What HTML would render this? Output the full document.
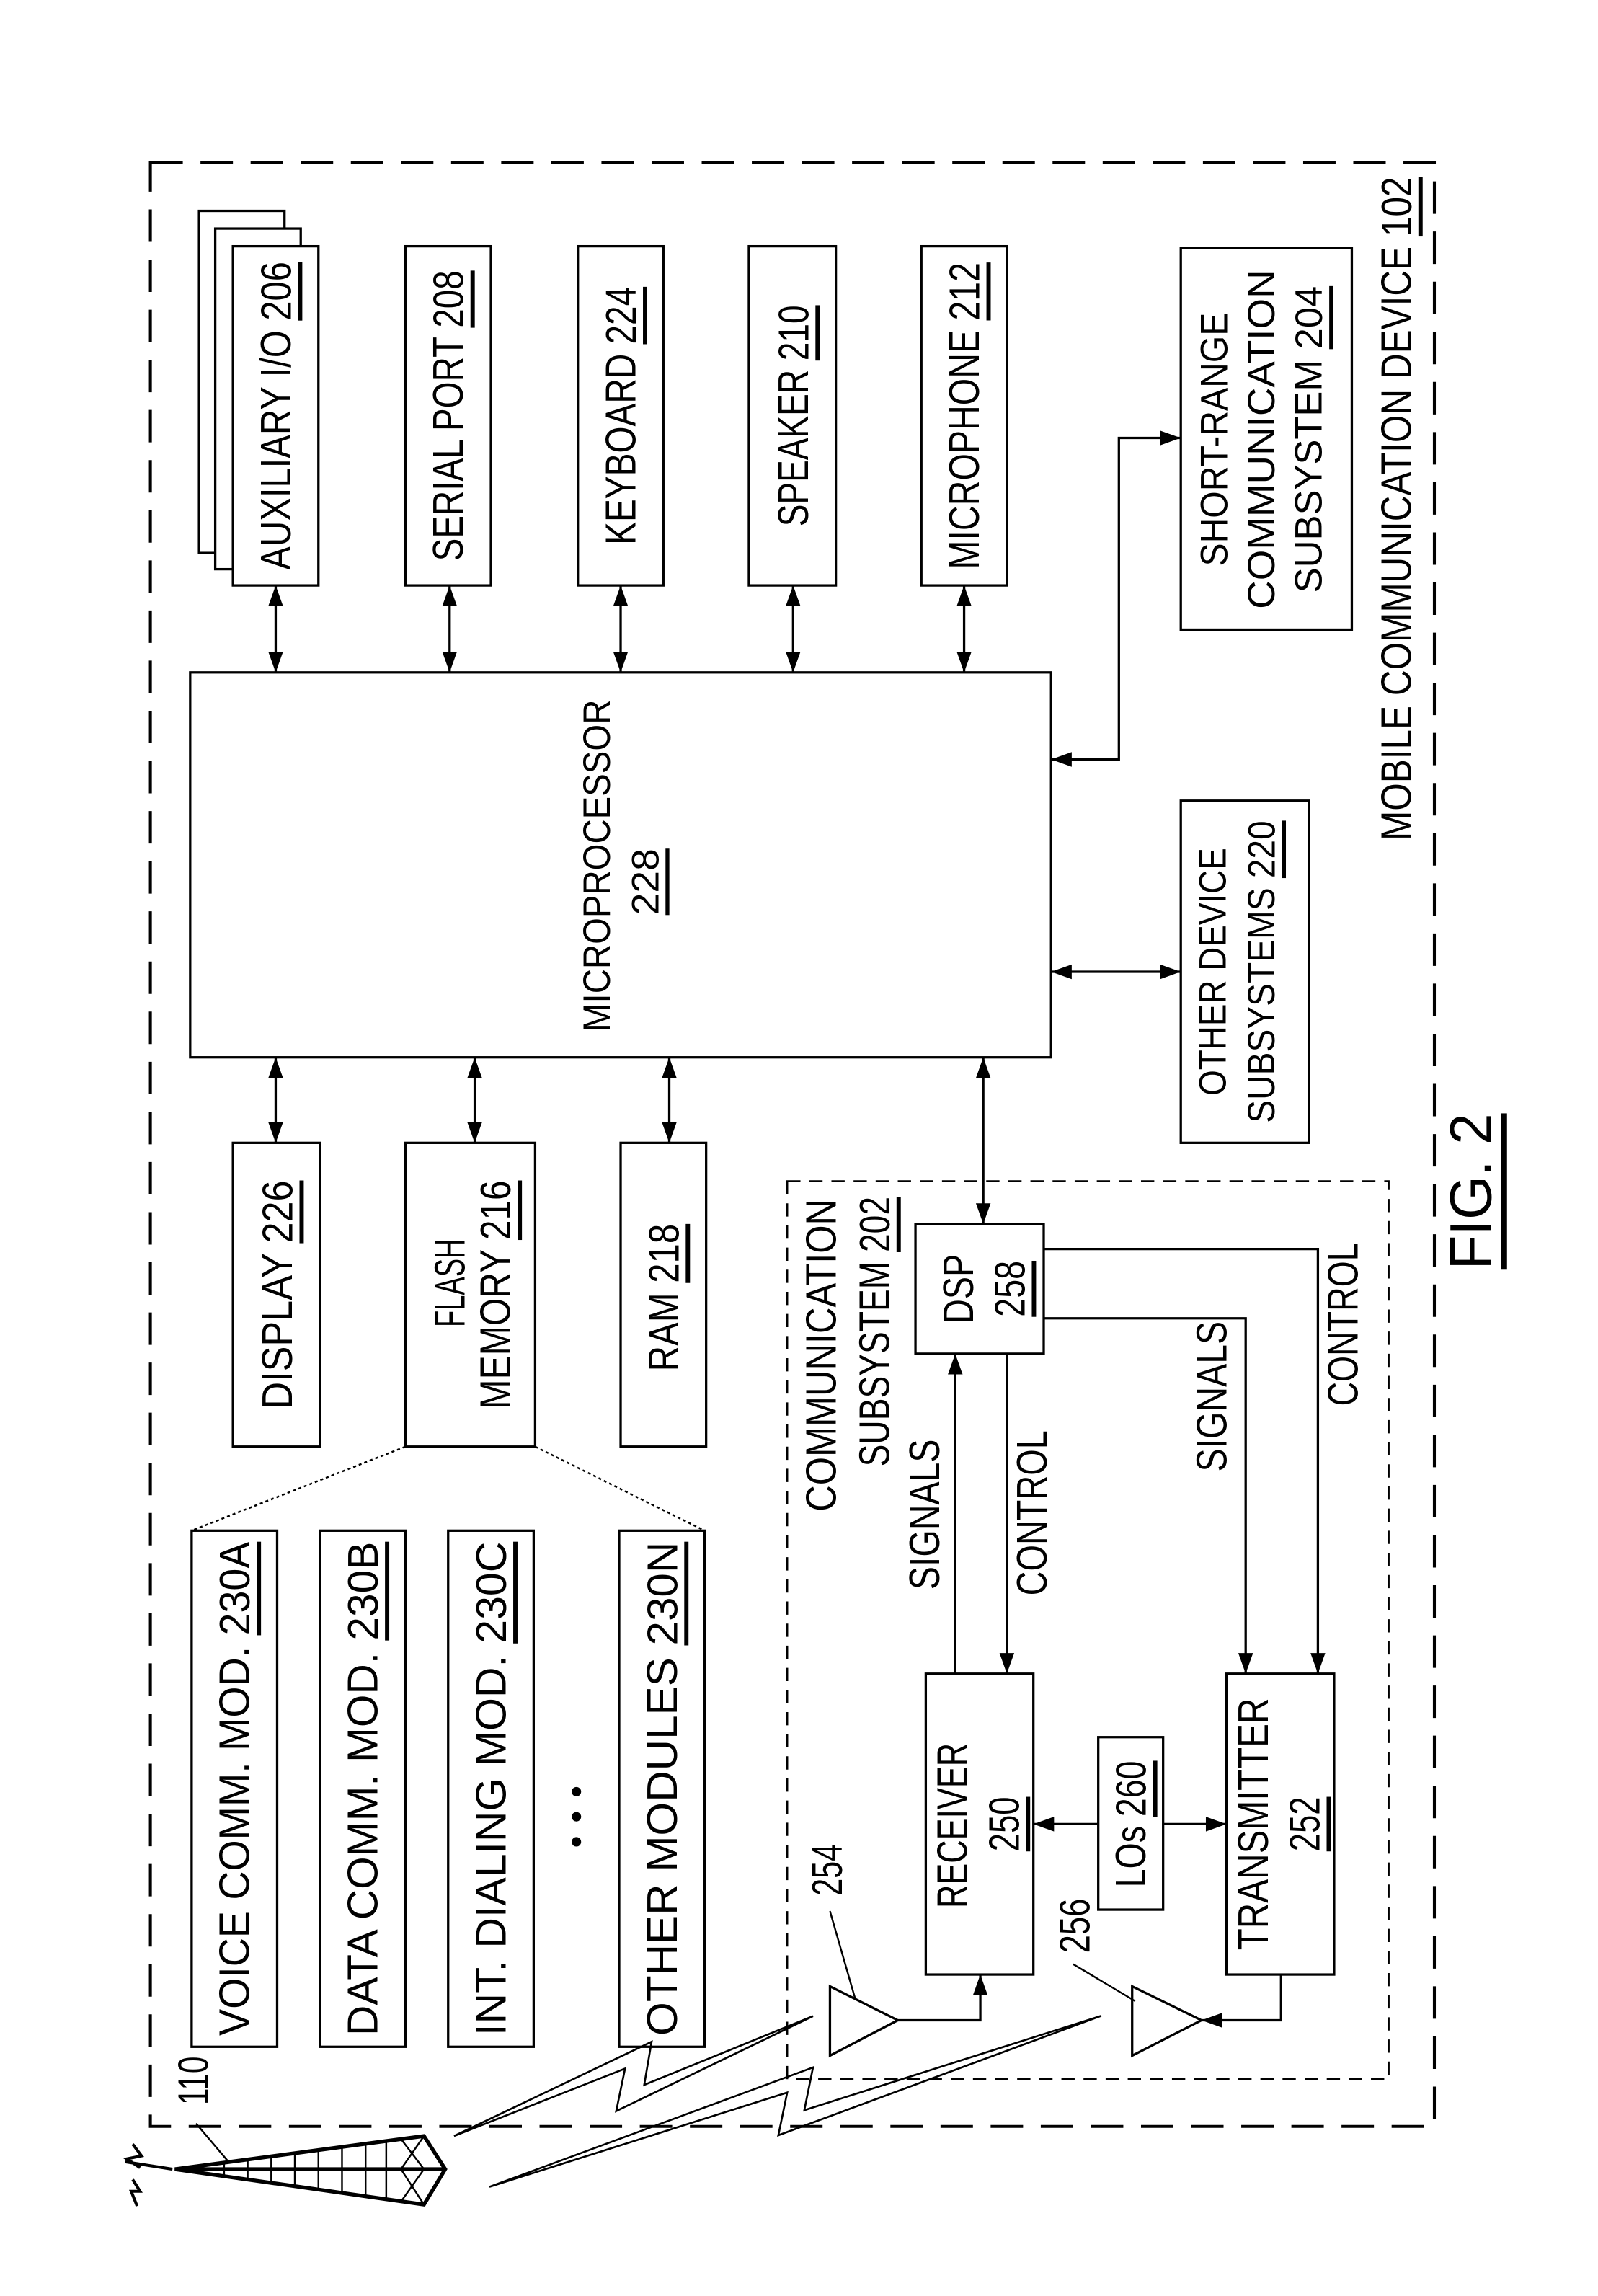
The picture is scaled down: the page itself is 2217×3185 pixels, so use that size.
<!DOCTYPE html>
<html><head><meta charset="utf-8"><style>
html,body{margin:0;padding:0;background:#fff}
svg{display:block}
text{font-family:"Liberation Sans",sans-serif;fill:#000}
.n{font-size:29px}
.w{font-size:26px}
</style></head><body>
<svg width="2217" height="3185" viewBox="0 0 1084 1557" preserveAspectRatio="none" xmlns="http://www.w3.org/2000/svg">
<g fill="none" stroke="#000" stroke-width="1.6">
<rect x="102" y="110" width="871" height="1332" stroke-dasharray="22,12" stroke-width="2"/>
<rect x="534" y="801" width="408" height="609" stroke-dasharray="9,6" stroke-width="1.3"/>
<rect x="135" y="143" width="58" height="232" fill="#fff"/>
<rect x="146" y="155" width="58" height="231" fill="#fff"/>
<rect x="158" y="167" width="58" height="230" fill="#fff"/>
<rect x="275" y="167" width="58" height="230"/>
<rect x="392" y="167" width="58" height="230"/>
<rect x="508" y="167" width="59" height="230"/>
<rect x="625" y="167" width="58" height="230"/>
<rect x="801" y="168" width="116" height="259"/>
<rect x="129" y="456" width="584" height="261"/>
<rect x="801" y="543" width="87" height="232"/>
<rect x="158" y="775" width="59" height="206"/>
<rect x="275" y="775" width="88" height="206"/>
<rect x="421" y="775" width="58" height="206"/>
<rect x="130" y="1038" width="58" height="350"/>
<rect x="217" y="1038" width="58" height="350"/>
<rect x="304" y="1038" width="58" height="350"/>
<rect x="420" y="1038" width="58" height="350"/>
<path d="M275,981L130,1038M363,981L478,1038" stroke-dasharray="2,2" stroke-width="1.2"/>
<path d="M187,397V456M305,397V456M421,397V456M538,397V456M654,397V456"/>
<path d="M187,717V775M322,717V775M454,717V775"/>
<path d="M713,659H801"/>
<path d="M713,515H759V297H801"/>
<path d="M667,717V830"/>
<rect x="621" y="830" width="87" height="88"/>
<rect x="628" y="1135" width="73" height="204"/>
<rect x="832" y="1135" width="73" height="204"/>
<rect x="745" y="1178" width="44" height="117"/>
<path d="M648,1135V918"/>
<path d="M683,918V1135"/>
<path d="M708,847H894V1135"/>
<path d="M708,894H845V1135"/>
<path d="M745,1237H701"/>
<path d="M789,1237H832"/>
<path d="M563,1347L609,1370L563,1394z"/>
<path d="M609,1370H665V1339"/>
<path d="M768,1347L815,1370L768,1394z"/>
<path d="M869,1339V1370H815"/>
<path d="M563,1296L580,1355M728,1332L770,1357" stroke-width="1.2"/>
<path d="M308,1448.5L442,1384.6L437,1413.8L551.5,1367.2L418,1431.6L424,1402.8z" stroke-width="1.3"/>
<path d="M332,1483L551.5,1402L545.6,1431L747,1367L528,1448L534,1419z" stroke-width="1.3"/>
<path d="M118.6,1471L287.6,1448.5L302,1471L287.6,1495z" stroke-width="2.6"/>
<path d="M118.6,1471H302" stroke-width="2.6"/>
<path d="M287.6,1448.5L272,1471L287.6,1495M272,1450.5L287.6,1471L272,1493" stroke-width="1.2"/>
<path d="M136,1468.7V1473.3M152,1466.5V1475.5M168,1464.4V1477.6M184,1462.3V1479.7M200,1460.2V1481.8M216,1458V1484M232,1456V1486M248,1453.7V1488.3M262,1452V1490.3" stroke-width="1.2"/>
<path d="M133,1440L155,1466" stroke-width="1.2"/>
<path d="M90,1454L96,1462L86,1464L95,1470M85,1466L117,1471M90,1478L95,1486L89,1486L93,1496" stroke-width="2"/>
</g>
<g fill="#000">
<!-- up tips at 397, down tips at 456 -->
<path d="M182,411L187,397L192,411zM182,442L187,456L192,442z"/>
<path d="M300,411L305,397L310,411zM300,442L305,456L310,442z"/>
<path d="M416,411L421,397L426,411zM416,442L421,456L426,442z"/>
<path d="M533,411L538,397L543,411zM533,442L538,456L543,442z"/>
<path d="M649,411L654,397L659,411zM649,442L654,456L659,442z"/>
<path d="M182,731L187,717L192,731zM182,761L187,775L192,761z"/>
<path d="M317,731L322,717L327,731zM317,761L322,775L327,761z"/>
<path d="M449,731L454,717L459,731zM449,761L454,775L459,761z"/>
<path d="M662,731L667,717L672,731zM662,816L667,830L672,816z"/>
<path d="M727,654L713,659L727,664zM787,654L801,659L787,664z"/>
<path d="M727,510L713,515L727,520zM787,292L801,297L787,302z"/>
<path d="M643,932L648,918L653,932z"/>
<path d="M678,1121L683,1135L688,1121z"/>
<path d="M889,1121L894,1135L899,1121z"/>
<path d="M840,1121L845,1135L850,1121z"/>
<path d="M715,1232L701,1237L715,1242z"/>
<path d="M818,1232L832,1237L818,1242z"/>
<path d="M660,1353L665,1339L670,1353z"/>
<path d="M829,1365L815,1370L829,1375z"/>
<circle cx="391" cy="1215" r="3.2"/><circle cx="391" cy="1232" r="3.2"/><circle cx="391" cy="1249" r="3.2"/>
</g>
<g class="n">
<text transform="translate(187,282) rotate(-90)" text-anchor="middle" dominant-baseline="central" textLength="209" lengthAdjust="spacingAndGlyphs">AUXILIARY I/O <tspan text-decoration="underline">206</tspan></text>
<text transform="translate(304,282) rotate(-90)" text-anchor="middle" dominant-baseline="central" textLength="197" lengthAdjust="spacingAndGlyphs">SERIAL PORT <tspan text-decoration="underline">208</tspan></text>
<text transform="translate(421,282) rotate(-90)" text-anchor="middle" dominant-baseline="central" textLength="175" lengthAdjust="spacingAndGlyphs">KEYBOARD <tspan text-decoration="underline">224</tspan></text>
<text transform="translate(538,282) rotate(-90)" text-anchor="middle" dominant-baseline="central" textLength="150" lengthAdjust="spacingAndGlyphs">SPEAKER <tspan text-decoration="underline">210</tspan></text>
<text transform="translate(654,282) rotate(-90)" text-anchor="middle" dominant-baseline="central" textLength="208" lengthAdjust="spacingAndGlyphs">MICROPHONE <tspan text-decoration="underline">212</tspan></text>
<text transform="translate(188,878) rotate(-90)" text-anchor="middle" dominant-baseline="central" textLength="155" lengthAdjust="spacingAndGlyphs">DISPLAY <tspan text-decoration="underline">226</tspan></text>
<text transform="translate(305,870) rotate(-90)" text-anchor="middle" dominant-baseline="central" textLength="60" lengthAdjust="spacingAndGlyphs">FLASH</text>
<text transform="translate(336,878) rotate(-90)" text-anchor="middle" dominant-baseline="central" textLength="155" lengthAdjust="spacingAndGlyphs">MEMORY <tspan text-decoration="underline">216</tspan></text>
<text transform="translate(450,880) rotate(-90)" text-anchor="middle" dominant-baseline="central" textLength="100" lengthAdjust="spacingAndGlyphs">RAM <tspan text-decoration="underline">218</tspan></text>
<text transform="translate(159,1213) rotate(-90)" text-anchor="middle" dominant-baseline="central" textLength="335" lengthAdjust="spacingAndGlyphs">VOICE COMM. MOD. <tspan text-decoration="underline">230A</tspan></text>
<text transform="translate(246,1213) rotate(-90)" text-anchor="middle" dominant-baseline="central" textLength="335" lengthAdjust="spacingAndGlyphs">DATA COMM. MOD. <tspan text-decoration="underline">230B</tspan></text>
<text transform="translate(333,1213) rotate(-90)" text-anchor="middle" dominant-baseline="central" textLength="335" lengthAdjust="spacingAndGlyphs">INT. DIALING MOD. <tspan text-decoration="underline">230C</tspan></text>
<text transform="translate(449,1213) rotate(-90)" text-anchor="middle" dominant-baseline="central" textLength="335" lengthAdjust="spacingAndGlyphs">OTHER MODULES <tspan text-decoration="underline">230N</tspan></text>
<text transform="translate(557,919) rotate(-90)" text-anchor="middle" dominant-baseline="central" textLength="212" lengthAdjust="spacingAndGlyphs">COMMUNICATION</text>
<text transform="translate(593,903) rotate(-90)" text-anchor="middle" dominant-baseline="central" textLength="183" lengthAdjust="spacingAndGlyphs">SUBSYSTEM <tspan text-decoration="underline">202</tspan></text>
<text transform="translate(650,874) rotate(-90)" text-anchor="middle" dominant-baseline="central" textLength="47" lengthAdjust="spacingAndGlyphs">DSP</text>
<text transform="translate(685,874) rotate(-90)" text-anchor="middle" dominant-baseline="central" textLength="38" lengthAdjust="spacingAndGlyphs" text-decoration="underline">258</text>
<text transform="translate(627,1027) rotate(-90)" text-anchor="middle" dominant-baseline="central" textLength="102" lengthAdjust="spacingAndGlyphs">SIGNALS</text>
<text transform="translate(700,1026) rotate(-90)" text-anchor="middle" dominant-baseline="central" textLength="112" lengthAdjust="spacingAndGlyphs">CONTROL</text>
<text transform="translate(822,947) rotate(-90)" text-anchor="middle" dominant-baseline="central" textLength="102" lengthAdjust="spacingAndGlyphs">SIGNALS</text>
<text transform="translate(911,898) rotate(-90)" text-anchor="middle" dominant-baseline="central" textLength="111" lengthAdjust="spacingAndGlyphs">CONTROL</text>
<text transform="translate(646,1238) rotate(-90)" text-anchor="middle" dominant-baseline="central" textLength="112" lengthAdjust="spacingAndGlyphs">RECEIVER</text>
<text transform="translate(681,1237) rotate(-90)" text-anchor="middle" dominant-baseline="central" textLength="37" lengthAdjust="spacingAndGlyphs" text-decoration="underline">250</text>
<text transform="translate(850,1237) rotate(-90)" text-anchor="middle" dominant-baseline="central" textLength="171" lengthAdjust="spacingAndGlyphs">TRANSMITTER</text>
<text transform="translate(885,1237) rotate(-90)" text-anchor="middle" dominant-baseline="central" textLength="37" lengthAdjust="spacingAndGlyphs" text-decoration="underline">252</text>
<text transform="translate(767,1237) rotate(-90)" text-anchor="middle" dominant-baseline="central" textLength="86" lengthAdjust="spacingAndGlyphs">LOs <tspan text-decoration="underline">260</tspan></text>
<text transform="translate(561,1268) rotate(-90)" text-anchor="middle" dominant-baseline="central" textLength="35" lengthAdjust="spacingAndGlyphs">254</text>
<text transform="translate(729,1306) rotate(-90)" text-anchor="middle" dominant-baseline="central" textLength="37" lengthAdjust="spacingAndGlyphs">256</text>
<text transform="translate(131,1411) rotate(-90)" text-anchor="middle" dominant-baseline="central" textLength="33" lengthAdjust="spacingAndGlyphs">110</text>
<text transform="translate(947,345) rotate(-90)" text-anchor="middle" dominant-baseline="central" textLength="450" lengthAdjust="spacingAndGlyphs">MOBILE COMMUNICATION DEVICE <tspan text-decoration="underline">102</tspan></text>
<text transform="translate(998,808) rotate(-90)" text-anchor="middle" dominant-baseline="central" textLength="106" lengthAdjust="spacingAndGlyphs" style="font-size:40px" text-decoration="underline">FIG. 2</text>
</g>
<g class="w">
<text transform="translate(405,587) rotate(-90)" text-anchor="middle" dominant-baseline="central" textLength="225" lengthAdjust="spacingAndGlyphs">MICROPROCESSOR</text>
<text transform="translate(438,598) rotate(-90)" text-anchor="middle" dominant-baseline="central" textLength="45" lengthAdjust="spacingAndGlyphs" text-decoration="underline">228</text>
<text transform="translate(824,298) rotate(-90)" text-anchor="middle" dominant-baseline="central" textLength="172" lengthAdjust="spacingAndGlyphs">SHORT-RANGE</text>
<text transform="translate(856,298) rotate(-90)" text-anchor="middle" dominant-baseline="central" textLength="230" lengthAdjust="spacingAndGlyphs">COMMUNICATION</text>
<text transform="translate(888,298) rotate(-90)" text-anchor="middle" dominant-baseline="central" textLength="208" lengthAdjust="spacingAndGlyphs">SUBSYSTEM <tspan text-decoration="underline">204</tspan></text>
<text transform="translate(823,659) rotate(-90)" text-anchor="middle" dominant-baseline="central" textLength="168" lengthAdjust="spacingAndGlyphs">OTHER DEVICE</text>
<text transform="translate(856,659) rotate(-90)" text-anchor="middle" dominant-baseline="central" textLength="205" lengthAdjust="spacingAndGlyphs">SUBSYSTEMS <tspan text-decoration="underline">220</tspan></text>
</g>
</svg>
</body></html>
